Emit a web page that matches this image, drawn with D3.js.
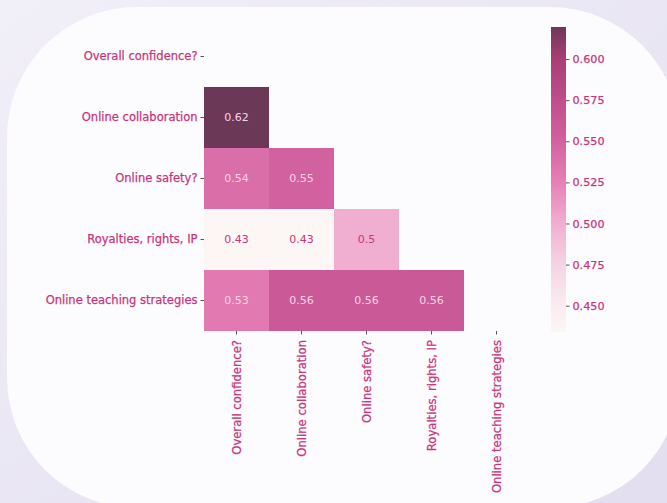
<!DOCTYPE html>
<html>
<head>
<meta charset="utf-8">
<script src="https://cdn.jsdelivr.net/npm/d3@7"></script>
<style>
  body { margin: 0; }
  svg { display: block; font-family: "DejaVu Sans", sans-serif; }
</style>
</head>
<body>
<script>
var svgWidth = 667;
var svgHeight = 503;

// question labels (rows and columns are the same list)
var questions = ["Overall confidence?", "Online collaboration", "Online safety?", "Royalties, rights, IP", "Online teaching strategies"];

// lower triangle of the correlation matrix, row by row
var row1 = [0.6195];
var row2 = [0.54, 0.55];
var row3 = [0.434, 0.434, 0.50];
var row4 = [0.53, 0.56, 0.56, 0.56];
var rows = [[], row1, row2, row3, row4];

var cbTicks = [0.450, 0.475, 0.500, 0.525, 0.550, 0.575, 0.600];

// colormap stops
var cmapStops = [0.434, 0.45, 0.475, 0.50, 0.525, 0.55, 0.575, 0.60, 0.6195];
var cmapColors = ["#fcf6f4", "#faecef", "#f5d3e4", "#f0afd0", "#e680b5", "#d2629f", "#bf4e8b", "#a93e76", "#6c3857"];

var labelColor = "#c9357c";

var cells = [];
rows.forEach(function(r, i) {
    r.forEach(function(v, j) {
        cells.push({row: questions[i], col: questions[j], value: v});
    });
});

var svg = d3.select("body").append("svg")
    .attr("width", svgWidth)
    .attr("height", svgHeight);

// background + card
var defs = svg.append("defs");
var grad = defs.append("linearGradient").attr("id", "bg")
    .attr("x1", "0").attr("y1", "0").attr("x2", "1").attr("y2", "1");
grad.append("stop").attr("offset", "0%").attr("stop-color", "#f1eff8");
grad.append("stop").attr("offset", "100%").attr("stop-color", "#e3def0");

svg.append("rect").attr("width", svgWidth).attr("height", svgHeight).attr("fill", "url(#bg)");
svg.append("rect")
    .attr("x", 7).attr("y", 7)
    .attr("width", 673).attr("height", 501)
    .attr("rx", 130).attr("ry", 130)
    .attr("fill", "#fcfbfe");

var heat = {left: 204, top: 26, width: 325, height: 305};

var xScale = d3.scaleBand().domain(questions).range([heat.left, heat.left + heat.width]);
var yScale = d3.scaleBand().domain(questions).range([heat.top, heat.top + heat.height]);

var color = d3.scaleLinear().domain(cmapStops).range(cmapColors).clamp(true);
var fmt = d3.format(".2~g");

function styleText(sel, size) {
    sel.attr("font-size", size).attr("fill", labelColor)
        .attr("stroke", labelColor).attr("stroke-width", 0.25)
        .attr("font-family", "DejaVu Sans");
}

var g = svg.append("g");

g.selectAll("rect.cell")
    .data(cells)
    .enter()
    .append("rect")
    .attr("class", "cell")
    .attr("x", function(d) { return xScale(d.col); })
    .attr("y", function(d) { return yScale(d.row); })
    .attr("width", xScale.bandwidth())
    .attr("height", yScale.bandwidth())
    .attr("fill", function(d) { return color(d.value); });

g.selectAll("text.val")
    .data(cells)
    .enter()
    .append("text")
    .attr("class", "val")
    .attr("x", function(d) { return xScale(d.col) + xScale.bandwidth() / 2; })
    .attr("y", function(d) { return yScale(d.row) + yScale.bandwidth() / 2; })
    .attr("text-anchor", "middle")
    .attr("dominant-baseline", "central")
    .attr("font-size", "11px")
    .attr("fill", function(d) { return d.value < 0.51 ? "#c9357c" : "#fad2e6"; })
    .text(function(d) { return fmt(d.value); });

// y axis
var yAxis = d3.axisLeft(yScale).tickSize(3.5).tickPadding(3);
var yg = svg.append("g").attr("transform", "translate(" + heat.left + ",0)").call(yAxis);
yg.select(".domain").remove();
yg.selectAll("line").attr("stroke", "#555");
styleText(yg.selectAll("text"), "11.5px");

// x axis
var xAxis = d3.axisBottom(xScale).tickSize(3.5).tickPadding(3);
var xg = svg.append("g").attr("transform", "translate(0," + (heat.top + heat.height) + ")").call(xAxis);
xg.select(".domain").remove();
xg.selectAll("line").attr("stroke", "#555");
styleText(xg.selectAll("text"), "11.6px");
xg.selectAll("text")
    .attr("transform", "rotate(-90)")
    .attr("text-anchor", "end")
    .attr("x", -9).attr("y", 0).attr("dy", "0.35em");

// colorbar
var cb = {left: 551, top: 27, width: 15, height: 305};
var cbScale = d3.scaleLinear().domain([cmapStops[0], cmapStops[cmapStops.length - 1]]).range([cb.top + cb.height, cb.top]);

var cbGrad = defs.append("linearGradient").attr("id", "cbgrad")
    .attr("x1", "0").attr("y1", "1").attr("x2", "0").attr("y2", "0");
cmapStops.forEach(function(s, i) {
    cbGrad.append("stop")
        .attr("offset", ((s - cmapStops[0]) / (cmapStops[cmapStops.length - 1] - cmapStops[0]) * 100) + "%")
        .attr("stop-color", cmapColors[i]);
});
svg.append("rect")
    .attr("x", cb.left).attr("y", cb.top)
    .attr("width", cb.width).attr("height", cb.height)
    .attr("fill", "url(#cbgrad)");

var cbAxis = d3.axisRight(cbScale).tickValues(cbTicks).tickFormat(d3.format(".3f")).tickSize(3.5).tickPadding(3);
var cbg = svg.append("g").attr("transform", "translate(" + (cb.left + cb.width) + ",0)").call(cbAxis);
cbg.select(".domain").remove();
cbg.selectAll("line").attr("stroke", "#555");
styleText(cbg.selectAll("text"), "11.2px");
</script>
</body>
</html>
